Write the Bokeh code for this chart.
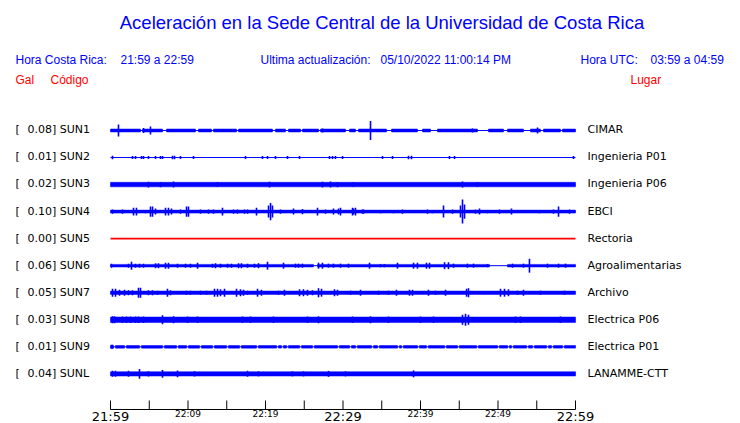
from bokeh.plotting import figure
from bokeh.models import Range1d, ColumnDataSource
from bokeh.embed import file_html
from bokeh.resources import INLINE
from bokeh.core.properties import value

# ---------------- data ----------------
TITLE = "Aceleración en la Sede Central de la Universidad de Costa Rica"
HORA_CR = "21:59 a 22:59"
ACTUALIZACION = "05/10/2022 11:00:14 PM"
HORA_UTC = "03:59 a 04:59"

CODES = ["SUN1", "SUN2", "SUN3", "SUN4", "SUN5", "SUN6", "SUN7", "SUN8", "SUN9", "SUNL"]
PEAKS = [0.08, 0.01, 0.02, 0.10, 0.00, 0.06, 0.05, 0.03, 0.01, 0.04]
PLACES = ["CIMAR", "Ingenieria P01", "Ingenieria P06", "EBCI", "Rectoria",
          "Agroalimentarias", "Archivo", "Electrica P06", "Electrica P01", "LANAMME-CTT"]
# background (noise) half-amplitude of each trace, gal
BASE = [0.0125, 0.0, 0.019, 0.0125, 0.0, 0.011, 0.014, 0.023, 0.011, 0.018]

# bursts: time (minutes after 21:59) and half-amplitude (gal)
T_SUN1 = [1.03, 4.26, 5.16, 27.35, 33.55, 46.71, 55.10]
A_SUN1 = [0.050, 0.021, 0.033, 0.017, 0.079, 0.017, 0.025]
T_SUN2 = [0.26, 2.84, 3.23, 4.0, 4.26, 4.9, 5.81, 6.45, 6.71, 8.0, 8.26, 9.03, 10.71, 17.42,
          19.61, 20.26, 21.29, 22.84, 24.39, 28.26, 28.65, 29.03, 29.94, 35.10, 36.39, 38.45,
          38.84, 43.74, 44.39, 59.74]
A_SUN2 = [0.014, 0.012, 0.012, 0.012, 0.012, 0.012, 0.012, 0.012, 0.012, 0.014, 0.014, 0.012,
          0.012, 0.012, 0.012, 0.012, 0.012, 0.012, 0.012, 0.012, 0.013, 0.012, 0.012, 0.012,
          0.012, 0.014, 0.014, 0.012, 0.012, 0.012]
T_SUN3 = [4.90, 6.45, 8.13, 13.81, 20.52, 27.35, 28.39, 29.29, 31.35, 45.42, 47.35]
A_SUN3 = [0.024, 0.022, 0.025, 0.021, 0.024, 0.024, 0.025, 0.022, 0.021, 0.025, 0.021]
T_SUN4 = [0.26, 1.55, 2.97, 3.35, 4.52, 5.16, 5.42, 5.81, 7.10, 7.48, 7.87, 9.03, 9.81, 10.06,
          11.61, 12.65, 13.29, 14.45, 15.87, 16.39, 17.29, 17.68, 18.84, 20.39, 20.65, 20.90,
          21.94, 23.61, 24.77, 26.71, 27.74, 28.77, 29.42, 29.68, 31.23, 31.35, 31.61, 32.52,
          32.65, 34.84, 36.52, 37.68, 40.90, 41.55, 42.97, 44.13, 45.16, 45.42, 45.68, 47.10,
          47.61, 48.65, 50.19, 51.74, 55.35, 57.16, 57.81, 59.23]
A_SUN4 = [0.017, 0.017, 0.033, 0.033, 0.013, 0.042, 0.042, 0.025, 0.033, 0.033, 0.025, 0.017,
          0.042, 0.042, 0.017, 0.017, 0.017, 0.033, 0.017, 0.017, 0.017, 0.017, 0.033, 0.050,
          0.071, 0.050, 0.017, 0.025, 0.021, 0.033, 0.017, 0.025, 0.025, 0.033, 0.033, 0.025,
          0.033, 0.017, 0.017, 0.013, 0.013, 0.017, 0.017, 0.013, 0.050, 0.017, 0.050, 0.100,
          0.060, 0.017, 0.025, 0.013, 0.017, 0.025, 0.013, 0.017, 0.042, 0.017]
T_SUN5 = []
A_SUN5 = []
T_SUN6 = [0.13, 2.32, 2.71, 3.23, 3.74, 4.26, 5.81, 6.19, 7.10, 7.48, 8.65, 9.68, 10.32, 11.23,
          13.16, 13.55, 14.19, 15.10, 15.61, 16.52, 16.90, 17.68, 18.58, 19.10, 20.26, 22.32,
          23.87, 24.26, 24.77, 26.84, 27.35, 28.13, 28.77, 29.68, 30.71, 33.42, 34.84, 35.35,
          37.03, 39.10, 39.61, 40.77, 41.16, 43.10, 43.61, 44.26, 46.06, 46.84, 48.65, 51.87,
          53.29, 54.06, 56.39, 57.81, 58.71]
A_SUN6 = [0.017, 0.017, 0.033, 0.017, 0.017, 0.017, 0.021, 0.021, 0.025, 0.025, 0.017, 0.017,
          0.017, 0.025, 0.017, 0.021, 0.017, 0.017, 0.017, 0.021, 0.021, 0.017, 0.017, 0.021,
          0.033, 0.025, 0.017, 0.017, 0.017, 0.025, 0.025, 0.017, 0.017, 0.017, 0.017, 0.025,
          0.013, 0.013, 0.025, 0.025, 0.025, 0.025, 0.025, 0.029, 0.029, 0.017, 0.017, 0.017,
          0.013, 0.017, 0.017, 0.058, 0.017, 0.017, 0.017]
T_SUN7 = [0.26, 0.65, 1.16, 1.81, 2.32, 2.84, 3.61, 3.87, 4.90, 5.42, 6.06, 7.35, 7.74, 9.81,
          10.32, 11.61, 12.39, 13.42, 13.81, 14.19, 14.71, 16.26, 16.77, 17.16, 17.68, 18.97,
          19.48, 21.68, 22.45, 24.39, 24.90, 25.42, 26.06, 26.84, 27.23, 28.90, 29.29, 30.97,
          32.26, 34.58, 35.87, 36.90, 38.58, 38.97, 41.03, 41.94, 43.23, 45.94, 46.19, 48.13,
          50.32, 50.84, 51.35, 52.52, 53.29, 55.48, 58.58]
A_SUN7 = [0.033, 0.033, 0.025, 0.025, 0.021, 0.021, 0.042, 0.042, 0.021, 0.021, 0.017, 0.033,
          0.021, 0.017, 0.017, 0.017, 0.017, 0.033, 0.033, 0.030, 0.033, 0.033, 0.030, 0.025,
          0.017, 0.033, 0.025, 0.017, 0.025, 0.029, 0.029, 0.025, 0.021, 0.038, 0.033, 0.029,
          0.025, 0.017, 0.025, 0.017, 0.017, 0.025, 0.025, 0.025, 0.025, 0.017, 0.025, 0.033,
          0.038, 0.013, 0.033, 0.033, 0.029, 0.017, 0.025, 0.017, 0.017]
T_SUN8 = [0.26, 0.52, 1.55, 2.06, 2.58, 3.23, 3.61, 4.26, 6.71, 8.13, 9.94, 11.23, 17.03, 18.06,
          21.03, 25.42, 26.84, 31.23, 33.55, 35.87, 40.0, 41.68, 45.42, 45.81, 46.19, 52.26,
          52.90, 58.06]
A_SUN8 = [0.029, 0.029, 0.027, 0.027, 0.027, 0.027, 0.027, 0.027, 0.038, 0.029, 0.027, 0.027,
          0.027, 0.027, 0.027, 0.027, 0.029, 0.027, 0.029, 0.027, 0.027, 0.027, 0.042, 0.050,
          0.042, 0.027, 0.027, 0.027]
T_SUN9 = [0.13, 0.26]
A_SUN9 = [0.017, 0.017]
T_SUNL = [0.26, 0.65, 2.32, 3.74, 4.90, 6.71, 8.65, 10.84, 17.68, 19.10, 23.48, 24.90, 28.13,
          30.32, 39.10]
A_SUNL = [0.025, 0.025, 0.025, 0.040, 0.021, 0.033, 0.029, 0.021, 0.025, 0.021, 0.021, 0.021,
          0.025, 0.021, 0.029]

# quiet stretches (only the thin trace line), minutes
GAP_SUN1 = [(3.87, 4.13), (6.71, 7.23), (10.97, 11.35), (13.03, 13.29), (16.26, 16.52),
            (20.90, 21.29), (22.58, 22.97), (24.52, 24.77), (26.84, 27.10), (30.32, 30.84),
            (31.61, 32.0), (35.61, 36.26), (39.61, 40.26), (41.29, 42.19), (47.35, 48.77),
            (50.71, 51.23), (53.29, 54.19), (55.48, 55.87), (58.06, 58.32)]
GAP_SUN6 = [(26.19, 26.71), (48.90, 51.23)]
GAP_SUN9 = [(0.39, 0.65), (1.81, 2.06), (3.74, 4.0), (6.71, 6.97), (8.52, 8.77), (9.81, 10.06),
            (11.48, 11.74), (13.16, 13.42), (14.97, 15.23), (16.65, 16.90), (18.84, 19.10),
            (21.42, 21.68), (22.06, 22.32), (22.71, 22.97), (24.39, 24.65), (26.06, 26.32),
            (29.29, 29.55), (30.84, 31.10), (31.61, 31.87), (33.68, 33.94), (34.45, 34.71),
            (37.03, 37.29), (37.55, 37.81), (39.61, 39.87), (40.77, 41.03), (43.10, 43.35),
            (44.77, 45.03), (47.23, 47.48), (49.94, 50.19), (51.23, 51.48), (51.74, 52.0),
            (53.68, 53.94), (54.45, 54.71), (56.26, 56.52), (56.90, 57.16), (58.32, 58.58)]

TRACE_T = [T_SUN1, T_SUN2, T_SUN3, T_SUN4, T_SUN5, T_SUN6, T_SUN7, T_SUN8, T_SUN9, T_SUNL]
TRACE_A = [A_SUN1, A_SUN2, A_SUN3, A_SUN4, A_SUN5, A_SUN6, A_SUN7, A_SUN8, A_SUN9, A_SUNL]
TRACE_GAPS = [GAP_SUN1, [], [], [], [], GAP_SUN6, [], [], GAP_SUN9, []]

DURATION = 60  # minutes shown
TICK_MIN = [0, 5, 10, 15, 20, 25, 30, 35, 40, 45, 50, 55, 60]
LABEL_MIN = [0, 10, 20, 30, 40, 50, 60]
LABEL_TXT = ["21:59", "22:09", "22:19", "22:29", "22:39", "22:49", "22:59"]
LABEL_BIG = [True, False, False, True, False, False, True]

# ---------------- layout ----------------
W, H = 740, 423
FRAME_L, FRAME_R = 110, 575          # px of minute 0 and minute 60
ROW0_PX, ROW_PX = 130, 27.04         # px of first trace, spacing
PX_PER_GAL = 120.0
BLUE, RED = "#0000ff", "#ff0000"
K_SHIFT = 0.42                       # text box baseline correction (fraction of font size)

px_per_min = (FRAME_R - FRAME_L) / DURATION
x_range = Range1d(-FRAME_L / px_per_min, (W - FRAME_L) / px_per_min)
y_range = Range1d(-(H - ROW0_PX) / PX_PER_GAL, ROW0_PX / PX_PER_GAL)

p = figure(width=W, height=H, x_range=x_range, y_range=y_range,
           output_backend="svg", toolbar_location=None,
           x_axis_type=None, y_axis_type=None, min_border=0)
p.min_border_left = p.min_border_right = p.min_border_top = p.min_border_bottom = 0
p.extra_x_ranges = {"px": Range1d(0, W)}
p.extra_y_ranges = {"px": Range1d(H, 0)}
p.outline_line_color = None
p.grid.visible = False
p.background_fill_color = "white"
p.border_fill_color = "white"

row_gal = ROW_PX / PX_PER_GAL

# ---- traces ----
band = dict(left=[], right=[], bottom=[], top=[])
spk = dict(x=[], y0=[], y1=[])
for i, code in enumerate(CODES):
    c = -i * row_gal
    color = RED if PEAKS[i] == 0 else BLUE
    p.segment(x0=[0], x1=[DURATION], y0=[c], y1=[c], line_color=color,
              line_width=1.6 if color == RED else 1)
    if BASE[i] > 0:
        start = 0.0
        pieces = []
        for g0, g1 in TRACE_GAPS[i]:
            pieces.append((start, g0))
            start = g1
        pieces.append((start, DURATION))
        for a, b in pieces:
            band["left"].append(a)
            band["right"].append(b)
            band["bottom"].append(c - BASE[i])
            band["top"].append(c + BASE[i])
    for t, a in zip(TRACE_T[i], TRACE_A[i]):
        spk["x"].append(t)
        spk["y0"].append(c - a)
        spk["y1"].append(c + a)

p.quad(left="left", right="right", bottom="bottom", top="top",
       source=ColumnDataSource(band), fill_color=BLUE, line_color=BLUE, line_width=0.5)
p.segment(x0="x", x1="x", y0="y0", y1="y1", source=ColumnDataSource(spk),
          line_color=BLUE, line_width=1.6)

# ---- time axis ----
AX_Y = 409
p.segment(x0=[0], x1=[DURATION], y0=[AX_Y], y1=[AX_Y], line_color="black",
          line_width=1, y_range_name="px")
p.segment(x0=TICK_MIN, x1=TICK_MIN, y0=[AX_Y] * len(TICK_MIN), y1=[AX_Y - 9] * len(TICK_MIN),
          line_color="black", line_width=1, y_range_name="px")
big_x = [m for m, b in zip(LABEL_MIN, LABEL_BIG) if b]
big_t = [t for t, b in zip(LABEL_TXT, LABEL_BIG) if b]
sm_x = [m for m, b in zip(LABEL_MIN, LABEL_BIG) if not b]
sm_t = [t for t, b in zip(LABEL_TXT, LABEL_BIG) if not b]
p.text(x=big_x, y=[421.5 - K_SHIFT * 13] * len(big_x), text=big_t, y_range_name="px",
       text_font=value("DejaVu Sans"), text_font_size=value("13px"), text_color="black",
       text_align="center", text_baseline="alphabetic")
p.text(x=sm_x, y=[417.5 - K_SHIFT * 9] * len(sm_x), text=sm_t, y_range_name="px",
       text_font=value("DejaVu Sans"), text_font_size=value("9px"), text_color="black",
       text_align="center", text_baseline="alphabetic")


def txt(x, y, s, color, size, font="Liberation Sans", align="left"):
    p.text(x=[x], y=[y - K_SHIFT * size], text=[s], x_range_name="px", y_range_name="px",
           text_font=value(font), text_font_size=value(f"{size}px"), text_color=color,
           text_align=align, text_baseline="alphabetic")


# ---- headers ----
txt(381.5, 29.5, TITLE, BLUE, 18.5, align="center")
txt(15, 65, "Hora Costa Rica:", BLUE, 12)
txt(120, 65, HORA_CR, BLUE, 12)
txt(260, 65, "Ultima actualización:", BLUE, 12)
txt(380, 65, ACTUALIZACION, BLUE, 12)
txt(580, 65, "Hora UTC:", BLUE, 12)
txt(650, 65, HORA_UTC, BLUE, 12)
txt(15, 85, "Gal", RED, 12)
txt(50, 85, "Código", RED, 12)
txt(630, 85, "Lugar", RED, 12)

# ---- row labels ----
row_y = [ROW0_PX + ROW_PX * i + 4 - K_SHIFT * 11 for i in range(len(CODES))]
p.text(x=[15] * len(CODES), y=row_y, text=["["] * len(CODES), x_range_name="px",
       y_range_name="px", text_font=value("DejaVu Sans"), text_font_size=value("11px"),
       text_color="black", text_baseline="alphabetic")
p.text(x=[27] * len(CODES), y=row_y, text=[f"{v:.2f}] {c}" for v, c in zip(PEAKS, CODES)],
       x_range_name="px", y_range_name="px", text_font=value("DejaVu Sans"),
       text_font_size=value("11px"), text_color="black", text_baseline="alphabetic")
p.text(x=[587] * len(CODES), y=row_y, text=PLACES, x_range_name="px", y_range_name="px",
       text_font=value("DejaVu Sans"), text_font_size=value("11px"), text_color="black",
       text_baseline="alphabetic")

open("out.html", "w").write(file_html(p, INLINE))
